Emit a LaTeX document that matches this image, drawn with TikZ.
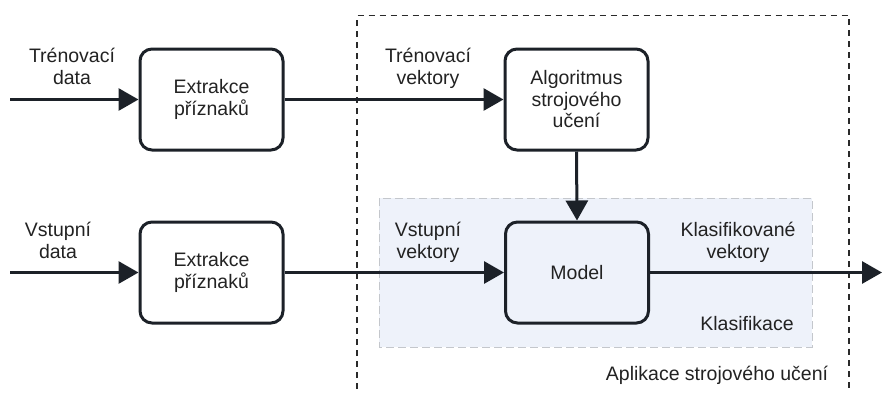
\documentclass[tikz,border=0pt]{standalone}
\usepackage{fontspec}
\setmainfont{Liberation Sans}
\usetikzlibrary{arrows.meta}
\definecolor{lc}{HTML}{1C2128}
\definecolor{tc}{HTML}{222222}
\definecolor{klfill}{HTML}{EEF2FA}
\definecolor{klborder}{HTML}{C4C7CC}
\definecolor{frame}{HTML}{2A2A2A}
\tikzset{
  every node/.style={font=\fontsize{19.5}{21.5}\selectfont, text=tc},
  procbox/.style={draw=lc, line width=3pt, rounded corners=12pt, minimum width=143pt, minimum height=101pt, align=center, inner sep=0pt},
  lbl/.style={align=center, inner sep=0pt},
  arr/.style={draw=lc, line width=3pt, -{Triangle[length=20pt,width=22pt]}},
}
\begin{document}
\begin{tikzpicture}[x=1pt,y=-1pt]
\useasboundingbox (0,0) rectangle (882,392);
% outer frame
\draw[frame, line width=1.5pt, dash pattern=on 6pt off 5pt] (357,400) -- (357,15.5) -- (849,15.5) -- (849,400);
% Klasifikace area
\draw[klborder, fill=klfill, line width=1pt, dash pattern=on 8pt off 4pt] (379,198) rectangle (812,347);
% boxes
\node[procbox] (ex1) at (211.5,99.5) {Extrakce\\příznaků};
\node[procbox] (ex2) at (211.5,272.5) {Extrakce\\příznaků};
\node[procbox] (alg) at (576.5,99.5) {Algoritmus\\strojového\\učení};
\node[procbox] (model) at (577,272.5) {Model};
% free ends
\coordinate (in1) at (10,99.5);
\coordinate (in2) at (10,272.5);
\coordinate (out) at (882,272.5);
% connectors
\draw[arr] (in1) -- (ex1.west);
\draw[arr] (in2) -- (ex2.west);
\draw[arr] (ex1.east) -- (alg.west);
\draw[arr] (ex2.east) -- (model.west);
\draw[arr] (alg.south) -- (model.north);
\draw[arr] (model.east) -- (out);
% labels
\node[lbl] (l1) at (72,66.5) {Trénovací\\data};
\node[lbl] (l2) at (428,68.4) {Trénovací\\vektory};
\node[lbl] (l3) at (58,240.3) {Vstupní\\data};
\node[lbl] (l4) at (428,242.3) {Vstupní\\vektory};
\node[lbl] (l5) at (738,242.3) {Klasifikované\\vektory};
\node[lbl, anchor=base] (l6) at (747,330) {Klasifikace};
\node[lbl, anchor=base] (l7) at (717,380) {Aplikace strojového učení};
\end{tikzpicture}
\end{document}
